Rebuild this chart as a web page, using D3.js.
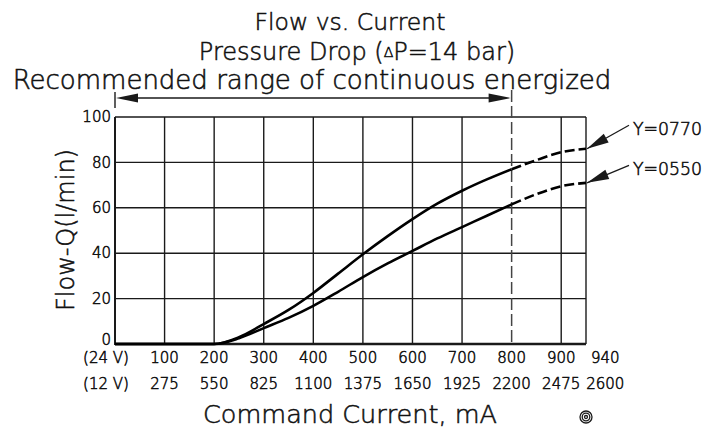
<!DOCTYPE html>
<html>
<head>
<meta charset="utf-8">
<script src="https://cdn.jsdelivr.net/npm/d3@7"></script>
<style>
  body { margin: 0; background: #fff; }
  svg text { font-family: "DejaVu Sans", sans-serif; font-weight: 200; fill: #111; stroke: #111; stroke-width: 0.55px; }
</style>
</head>
<body>
<div id="chart"></div>
<script>
// data
var current = [0, 50, 100, 150, 200, 250, 300, 350, 400, 450, 500, 550, 600, 650, 700, 750, 800, 850, 900, 950];
var flow0770 = [0, 0, 0, 0, 0, 3, 8.8, 15, 22.5, 31, 39.5, 47.5, 55, 61.8, 67.5, 72.5, 77, 81, 84.5, 86];
var flow0550 = [0, 0, 0, 0, 0, 2.5, 7, 11.5, 16.8, 23, 29.5, 35.5, 41, 46.5, 51.5, 56.5, 61.5, 66, 69.5, 71];
var seriesNames = ["Y=0770", "Y=0550"];
var yTicks = [0, 20, 40, 60, 80, 100];
var xGrid = [100, 200, 300, 400, 500, 600, 700, 800, 900];
var xTicks = [0, 100, 200, 300, 400, 500, 600, 700, 800, 900, 940];
var labels24 = ["(24 V)", "100", "200", "300", "400", "500", "600", "700", "800", "900", "940"];
var labels12 = ["(12 V)", "275", "550", "825", "1100", "1375", "1650", "1925", "2200", "2475", "2600"];
var rangeEnd = 800;   // recommended continuous range ends here

var W = 704, H = 429;
var m = {top: 117, right: 118, bottom: 85, left: 115};

var svg = d3.select("#chart").append("svg")
    .attr("width", W)
    .attr("height", H);

var x = d3.scaleLinear().domain([0, 950]).range([m.left, W - m.right]);
var y = d3.scaleLinear().domain([0, 100]).range([H - m.bottom, m.top]);

var ink = "#1a1a1a";

// titles
svg.append("text").attr("x", 350).attr("y", 30).attr("text-anchor", "middle")
    .attr("font-size", 23.5).text("Flow vs. Current");
var t2 = svg.append("text").attr("x", 357).attr("y", 60).attr("text-anchor", "middle")
    .attr("font-size", 24);
t2.append("tspan").text("Pressure Drop (");
t2.append("tspan").attr("font-size", 14).attr("dy", -3).text("\u0394");
t2.append("tspan").attr("dy", 3).text("P=14 bar)");
svg.append("text").attr("x", 312).attr("y", 89).attr("text-anchor", "middle")
    .attr("font-size", 26).text("Recommended range of continuous energized");

// grid
var g = svg.append("g");
g.selectAll(".vgrid").data(xGrid).enter().append("line")
    .attr("x1", function(d) { return x(d); })
    .attr("x2", function(d) { return x(d); })
    .attr("y1", y(0)).attr("y2", y(100))
    .attr("stroke", function(d) { return d == rangeEnd ? "none" : ink; })
    .attr("stroke-width", 1.4);
g.selectAll(".hgrid").data(yTicks).enter().append("line")
    .attr("x1", x(0)).attr("x2", x(950))
    .attr("y1", function(d) { return y(d); })
    .attr("y2", function(d) { return y(d); })
    .attr("stroke", ink)
    .attr("stroke-width", function(d) { return d == 0 ? 2.6 : 1.4; });
// frame
g.append("line").attr("x1", x(0)).attr("x2", x(0)).attr("y1", y(0) + 1).attr("y2", y(100))
    .attr("stroke", ink).attr("stroke-width", 2);
g.append("line").attr("x1", x(950)).attr("x2", x(950)).attr("y1", y(0)).attr("y2", y(100))
    .attr("stroke", ink).attr("stroke-width", 1.4);

// dashed limit line, up through the range arrow
svg.append("line")
    .attr("x1", x(rangeEnd)).attr("x2", x(rangeEnd))
    .attr("y1", 90).attr("y2", y(0))
    .attr("stroke", "#444").attr("stroke-width", 1.5)
    .attr("stroke-dasharray", "12,4");
svg.append("line")
    .attr("x1", x(0)).attr("x2", x(0))
    .attr("y1", 92).attr("y2", 108)
    .attr("stroke", ink).attr("stroke-width", 1.4);

// range arrow
var ay = 98;
svg.append("line").attr("x1", x(0) + 10).attr("x2", x(rangeEnd) - 10)
    .attr("y1", ay).attr("y2", ay).attr("stroke", ink).attr("stroke-width", 1.4);
function head(tx, ty, ang, len, half) {
  var c = Math.cos(ang), s = Math.sin(ang);
  var bx = tx - c * len, by = ty - s * len;
  return "M" + tx + "," + ty +
    "L" + (bx - s * half) + "," + (by + c * half) +
    "L" + (bx + s * half) + "," + (by - c * half) + "Z";
}
svg.append("path").attr("d", head(x(0) + 1, ay, Math.PI, 22, 4.5)).attr("fill", ink);
svg.append("path").attr("d", head(x(rangeEnd) - 1, ay, 0, 22, 4.5)).attr("fill", ink);

// curves: solid inside the range, dashed beyond
var line = d3.line()
    .x(function(d) { return x(d[0]); })
    .y(function(d) { return y(d[1]); })
    .curve(d3.curveMonotoneX);

[flow0770, flow0550].forEach(function(vals, i) {
  var pts = current.map(function(c, j) { return [c, vals[j]]; });
  var inside = pts.filter(function(p) { return p[0] <= rangeEnd; });
  var outside = pts.filter(function(p) { return p[0] >= rangeEnd; });
  svg.append("path").attr("d", line(inside))
      .attr("fill", "none").attr("stroke", "#000").attr("stroke-width", 2.6);
  svg.append("path").attr("d", line(outside))
      .attr("fill", "none").attr("stroke", "#000").attr("stroke-width", 2.6)
      .attr("stroke-dasharray", "10,4");

  // callout
  var tx = x(current[current.length - 1]) + 1, ty = y(vals[vals.length - 1]);
  var ly = ty - (i == 0 ? 20 : 14);
  var ex = tx + 42, ey = ly - 3.5;
  var ang = Math.atan2(ty - ey, tx - ex);
  svg.append("line").attr("x1", ex).attr("y1", ey).attr("x2", tx).attr("y2", ty)
      .attr("stroke", ink).attr("stroke-width", 1.3);
  svg.append("path").attr("d", head(tx, ty, ang, 22, 5)).attr("fill", ink);
  svg.append("text").attr("x", ex + 4).attr("y", ly).attr("dy", "0.35em")
      .attr("font-size", 17.3).text(seriesNames[i]);
});

// y tick labels
svg.selectAll(".ylab").data(yTicks).enter().append("text")
    .attr("x", x(0) - 4)
    .attr("y", function(d) { return y(d) - (d == 0 ? 4 : 0); })
    .attr("dy", "0.35em")
    .attr("text-anchor", "end")
    .attr("font-size", 15)
    .text(function(d) { return d; });

// x tick labels (two voltage rows)
var step = x(100) - x(0);
function labelX(d, i) {
  if (i == 0) return x(d) - 9;
  if (i == xTicks.length - 1) return x(900) + 0.89 * step;
  return x(d);
}
svg.selectAll(".xlab24").data(xTicks).enter().append("text")
    .attr("x", labelX).attr("y", 358).attr("dy", "0.35em")
    .attr("text-anchor", "middle").attr("font-size", 15)
    .text(function(d, i) { return labels24[i]; });
svg.selectAll(".xlab12").data(xTicks).enter().append("text")
    .attr("x", labelX).attr("y", 384).attr("dy", "0.35em")
    .attr("text-anchor", "middle").attr("font-size", 15)
    .text(function(d, i) { return labels12[i]; });

// axis titles
svg.append("text").attr("x", 350).attr("y", 414).attr("dy", "0.35em")
    .attr("text-anchor", "middle").attr("font-size", 25.5).text("Command Current, mA");
svg.append("text")
    .attr("transform", "translate(66,230) rotate(-90)")
    .attr("dy", "0.35em").attr("text-anchor", "middle")
    .attr("font-size", 24).text("Flow-Q(l/min)");

// concentric-circle mark
[6, 3.8, 1.5].forEach(function(r) {
  svg.append("circle").attr("cx", 586).attr("cy", 417).attr("r", r)
      .attr("fill", "none").attr("stroke", ink).attr("stroke-width", 1.3);
});
</script>
</body>
</html>
